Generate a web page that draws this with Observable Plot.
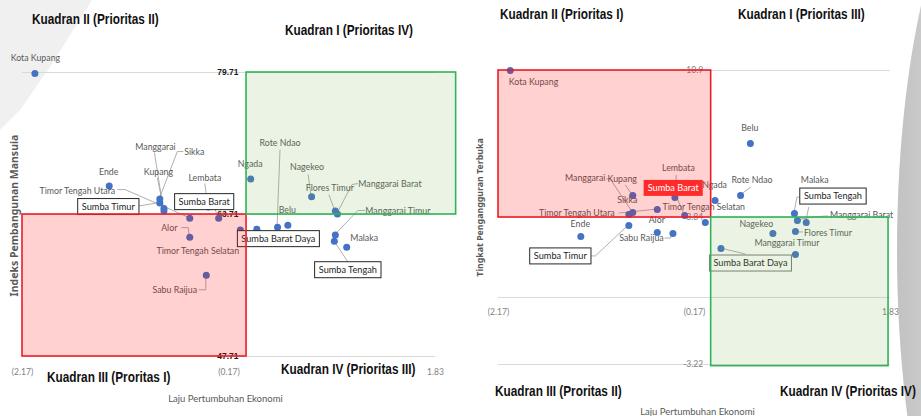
<!DOCTYPE html>
<html><head><meta charset="utf-8">
<script src="https://cdn.jsdelivr.net/npm/d3@7"></script>
<script src="https://cdn.jsdelivr.net/npm/@observablehq/plot@0.6"></script>
<style>
html,body{margin:0;padding:0;background:#fff;}
#wrap{position:relative;width:921px;height:416px;overflow:hidden;background:#fff;}
#bgL{position:absolute;left:0;top:0;width:100px;height:140px;background:#f0f0f0;clip-path:polygon(0 0,92px 0,50px 67px,20px 110px,0 130px);}
#bgR{position:absolute;left:897px;top:-150px;width:230px;height:800px;border-radius:50%;background:linear-gradient(90deg,#c2c2c2,#d6d6d6 30%,#c8c8c8);}
#left{position:absolute;left:0;top:0;}
#right{position:absolute;left:460px;top:0;}
</style></head>
<body>
<div id="wrap"><div id="bgL"></div><div id="bgR"></div><div id="left"></div><div id="right"></div></div>
<script>
// ---------- data ----------
const names = ["Kota Kupang","Ende","Sumba Timur","Sikka","Kupang","Manggarai","Timor Tengah Utara","Alor","Sabu Raijua","Lembata","Sumba Barat","Timor Tengah Selatan","Ngada","Sumba Barat Daya","Rote Ndao","Belu","Nagekeo","Sumba Tengah","Flores Timur","Manggarai Barat","Manggarai Timur","Malaka"];
const growth = [-2.05,-1.33,-0.84,-0.84,-0.80,-0.80,-0.55,-0.55,-0.39,-0.37,-0.27,-0.06,0.04,0.10,0.30,0.40,0.63,0.85,0.86,0.88,0.86,0.97];
const ipm = [79.6,66.93,65.0,65.45,64.4,64.1,63.3,61.16,56.86,64.55,63.3,61.95,67.7,62.06,62.28,62.5,65.7,60.7,64.1,63.76,61.4,60.03];
const tpt = [10.9,2.93,3.46,3.98,4.9,4.08,4.22,3.12,3.07,4.8,3.94,3.6,4.66,2.35,4.9,7.39,3.07,4.03,3.17,3.7,2.06,3.6];
const xTicks = [-2.17,-0.17,1.83];
const ipmTicks = [47.71,63.71,79.71];
const tptTicks = [-3.22,3.84,10.9];
const ipmSplit = 63.71, tptSplit = 3.84, growthSplit = 0;
const leftQuadTitles = ["Kuadran II (Prioritas II)","Kuadran I (Prioritas IV)","Kuadran III (Proritas I)","Kuadran IV (Prioritas III)"];
const rightQuadTitles = ["Kuadran II (Prioritas I)","Kuadran I (Prioritas III)","Kuadran III (Proritas II)","Kuadran IV (Prioritas IV)"];
const xTitle = "Laju Pertumbuhan Ekonomi";
const leftYTitle = "Indeks Pembangunan Mansuia";
const rightYTitle = "Tingkat Pengangguran Terbuka";

const data = names.map((n,i)=>({name:n, growth:growth[i], ipm:ipm[i], tpt:tpt[i]}));

// ---------- label layout (pixel offsets from each point) ----------
const leftLabels = {
  "Kota Kupang":{dx:1,dy:-15},
  "Ende":{dx:0,dy:-14},
  "Sumba Timur":{dx:-51,dy:4,box:"plain",leader:[[-24,4]]},
  "Sikka":{dx:35,dy:-47,leader:[[18,-47],[24,-47]]},
  "Kupang":{dx:-5,dy:-36,leader:[[-6,-30]]},
  "Manggarai":{dx:-8,dy:-64,leader:[[-9,-58]]},
  "Timor Tengah Utara":{dx:-74,dy:-27,anchor:"end",leader:[[-64,-28],[-72,-28]]},
  "Alor":{dx:-20,dy:-9,leader:[[-1,-9],[-8,-9]]},
  "Sabu Raijua":{dx:-31,dy:15,leader:[[0,15],[-7,15]]},
  "Lembata":{dx:-3,dy:-29,leader:[[-3,-23]]},
  "Sumba Barat":{dx:-14,dy:-16,box:"plain",leader:[[-3,-8]]},
  "Timor Tengah Selatan":{dx:-42,dy:21},
  "Ngada":{dx:0,dy:-15},
  "Sumba Barat Daya":{dx:22,dy:10,box:"plain"},
  "Rote Ndao":{dx:3,dy:-84,leader:[[3,-77]]},
  "Belu":{dx:0,dy:-15},
  "Nagekeo":{dx:-4,dy:-29,leader:[[-3,-22]]},
  "Sumba Tengah":{dx:14,dy:29,box:"plain",leader:[[14,21]]},
  "Flores Timur":{dx:-5,dy:-23,leader:[[-6,-16]]},
  "Manggarai Barat":{dx:53,dy:-30,leader:[[15,-29],[21,-30]]},
  "Manggarai Timur":{dx:63,dy:-24,leader:[[23,-24],[30,-24]]},
  "Malaka":{dx:18,dy:-9}
};
const rightLabels = {
  "Kota Kupang":{dx:-1,dy:12,anchor:"start"},
  "Ende":{dx:0,dy:-12},
  "Sumba Timur":{dx:-68,dy:31,box:"plain",leader:[[-33,31],[-40,31]]},
  "Sikka":{dx:-1,dy:-14},
  "Kupang":{dx:-10,dy:-16,leader:[[-7,-10]]},
  "Manggarai":{dx:-47,dy:-34,leader:[[-22,-33],[-26,-33]]},
  "Timor Tengah Utara":{dx:-42,dy:4,anchor:"end",leader:[[-38,4]]},
  "Alor":{dx:0,dy:-12},
  "Sabu Raijua":{dx:-31,dy:5,leader:[[-2,5],[-8,5]]},
  "Lembata":{dx:4,dy:-29,leader:[[2,-22]]},
  "Sumba Barat":{dx:-11,dy:-27,box:"red",leader:[[-8,-19]]},
  "Timor Tengah Selatan":{dx:-1,dy:-15},
  "Ngada":{dx:0,dy:-15},
  "Sumba Barat Daya":{dx:30,dy:15,box:"plain",boxStroke:"#7a7a7a",leader:[[25,6]]},
  "Rote Ndao":{dx:12,dy:-15,leader:[[11,-8]]},
  "Belu":{dx:0,dy:-15},
  "Nagekeo":{dx:-16,dy:-9},
  "Sumba Tengah":{dx:39,dy:-17,box:"plain",leader:[[3,-16],[9,-16]]},
  "Flores Timur":{dx:9,dy:2,anchor:"start",leader:[[4,1],[8,1]]},
  "Manggarai Barat":{dx:33,dy:-5,anchor:"start",leader:[[16,-3],[31,-4]]},
  "Manggarai Timur":{dx:-8,dy:-11},
  "Malaka":{dx:9,dy:-42,leader:[[3,-15]]}
};

const LABEL_FONT = "Lato, 'Open Sans', sans-serif";
const TITLE_FAMILY = "'Liberation Sans', Arial, sans-serif";
const AXIS_FONT = "'Noto Sans','Open Sans',sans-serif";
const DOT = "#4472c4", LABEL = "#595959", LEAD = "#a6a6a6", GRID = "#d9d9d9";
const CONDENSE = 0.815; // mimic a narrow bold face

const mcanvas = document.createElement("canvas");
const mctx = mcanvas.getContext("2d");
function textW(t, font){ mctx.font = font; return mctx.measureText(t).width; }

function leadersMark(layout, ykey){
  return (index, scales) => {
    const g = d3.create("svg:g").attr("fill","none").attr("stroke",LEAD).attr("stroke-width",0.9);
    data.forEach(d => {
      const L = layout[d.name];
      if (!L || !L.leader) return;
      const px = scales.x(d.growth), py = scales.y(d[ykey]);
      g.append("path").attr("d", `M${px},${py}` + L.leader.map(([a,b]) => `L${px+a},${py+b}`).join(""));
    });
    return g.node();
  };
}
function labelsMark(layout, ykey, which){
  return (index, scales) => {
    const g = d3.create("svg:g").attr("font-family", LABEL_FONT);
    data.forEach(d => {
      const L = layout[d.name];
      if (!L) return;
      const isTop = L.box === "red";
      if ((which === "top") !== isTop) return;
      const px = scales.x(d.growth) + L.dx, py = scales.y(d[ykey]) + L.dy;
      const anchor = L.anchor || "middle";
      if (L.box){
        const fs = 9.2;
        const w = textW(d.name, `${fs}px Lato`) + 8, h = 16;
        const x0 = anchor === "middle" ? px - w/2 : anchor === "start" ? px - 4 : px - w + 4;
        g.append("rect").attr("x",x0).attr("y",py-h/2).attr("width",w).attr("height",h)
          .attr("fill", L.box === "red" ? "#ff2b2b" : "#fff")
          .attr("stroke", L.box === "red" ? "none" : (L.boxStroke || "#262626")).attr("stroke-width",1);
        g.append("text").attr("x",px).attr("y",py).attr("dy","0.35em").attr("text-anchor",anchor)
          .attr("font-size",fs).attr("fill", L.box === "red" ? "#fff" : "#262626").text(d.name);
      } else {
        g.append("text").attr("x",px).attr("y",py).attr("dy","0.35em").attr("text-anchor",anchor)
          .attr("font-size",8.8).attr("fill",LABEL).text(d.name);
      }
    });
    return g.node();
  };
}
// quadrant titles: bold text, horizontally condensed to mimic Arial Narrow Bold
function titlesMark(titles, spots){
  return () => {
    const g = d3.create("svg:g").attr("font-family", TITLE_FAMILY).attr("font-weight","bold")
      .attr("font-size", 14.5).attr("fill", "#111").attr("text-anchor","start");
    titles.forEach((t, i) => {
      g.append("text").attr("transform", `translate(${spots[i][0]},${spots[i][1]}) scale(${CONDENSE},1)`)
        .attr("dy","0.35em").attr("text-anchor","start").text(t);
    });
    return g.node();
  };
}
function absText(t, px, py, m, opts){
  return Plot.text([t], {frameAnchor:"top-left", dx: px - m.left, dy: py - m.top, text: d => d, lineAnchor:"middle", ...opts});
}
const fmtX = d => d < 0 ? `(${Math.abs(d).toFixed(2)})` : d.toFixed(2);

// ---------- left chart ----------
const mL = {left:22, right:25, top:72, bottom:60};
const left = Plot.plot({
  width: 460, height: 416,
  marginLeft: mL.left, marginRight: mL.right, marginTop: mL.top, marginBottom: mL.bottom,
  style: {background: "transparent", fontFamily: LABEL_FONT, overflow: "visible"},
  x: {domain: [xTicks[0], xTicks[2]], axis: null},
  y: {domain: [ipmTicks[0], ipmTicks[2]], axis: null},
  marks: [
    Plot.ruleY(ipmTicks, {x1: xTicks[0], x2: xTicks[2], stroke: GRID, strokeWidth: 1}),
    Plot.text(xTicks, {x: d => d, y: ipmTicks[0], text: fmtX, dy: 16, fill: "#7f7f7f", fontSize: 8.5}),
    Plot.text(ipmTicks, {x: growthSplit, y: d => d, text: d => d.toFixed(2), dx: -8, textAnchor: "end", fill: "#1a1a1a", fontWeight: "bold", fontSize: 8.5, fontFamily: "'Liberation Sans',sans-serif"}),
    leadersMark(leftLabels, "ipm"),
    Plot.dot(data, {x: "growth", y: "ipm", r: 3.5, fill: DOT, stroke: "none"}),
    labelsMark(leftLabels, "ipm", "normal"),
    Plot.rect([{x1: xTicks[0], x2: growthSplit, y1: ipmTicks[0], y2: ipmSplit}], {x1:"x1", x2:"x2", y1:"y1", y2:"y2", fill: "#ff0000", fillOpacity: 0.18, stroke: "#ee1c24", strokeWidth: 1.6}),
    Plot.rect([{x1: growthSplit, x2: 2.03, y1: ipmSplit, y2: ipmTicks[2]}], {x1:"x1", x2:"x2", y1:"y1", y2:"y2", fill: "#70ad47", fillOpacity: 0.15, stroke: "#2fb457", strokeWidth: 1.6}),
    labelsMark(leftLabels, "ipm", "top"),
    titlesMark(leftQuadTitles, [[32,19],[285,30],[47,377],[281,369]]),
    absText(xTitle, 225, 398, mL, {textAnchor: "middle", fill: "#595959", fontSize: 9.5, fontFamily: LABEL_FONT}),
    absText(leftYTitle, 14, 215, mL, {textAnchor: "middle", rotate: -90, fill: "#595959", fontSize: 10.5, fontWeight: "bold", fontFamily: AXIS_FONT})
  ]
});
document.getElementById("left").appendChild(left);

// ---------- right chart ----------
const mR = {left:38, right:31, top:70, bottom:52};
const right = Plot.plot({
  width: 461, height: 416,
  marginLeft: mR.left, marginRight: mR.right, marginTop: mR.top, marginBottom: mR.bottom,
  style: {background: "transparent", fontFamily: LABEL_FONT, overflow: "visible"},
  x: {domain: [xTicks[0], xTicks[2]], axis: null},
  y: {domain: [tptTicks[0], tptTicks[2]], axis: null},
  marks: [
    Plot.ruleY([...tptTicks, 0], {x1: xTicks[0], x2: xTicks[2], stroke: GRID, strokeWidth: 1}),
    Plot.text(xTicks, {x: d => d, y: 0, text: fmtX, dy: 15, fill: "#7f7f7f", fontSize: 8.5}),
    Plot.text(tptTicks, {x: growthSplit, y: d => d, text: d => String(d), dx: -8, textAnchor: "end", fill: "#7f7f7f", fontSize: 8.5}),
    leadersMark(rightLabels, "tpt"),
    Plot.dot(data, {x: "growth", y: "tpt", r: 3.5, fill: DOT, stroke: "none"}),
    labelsMark(rightLabels, "tpt", "normal"),
    Plot.rect([{x1: xTicks[0], x2: growthSplit, y1: tptSplit, y2: tptTicks[2]}], {x1:"x1", x2:"x2", y1:"y1", y2:"y2", fill: "#ff0000", fillOpacity: 0.18, stroke: "#ee1c24", strokeWidth: 1.6}),
    Plot.rect([{x1: growthSplit, x2: 1.81, y1: -3.3, y2: tptSplit}], {x1:"x1", x2:"x2", y1:"y1", y2:"y2", fill: "#70ad47", fillOpacity: 0.15, stroke: "#2fb457", strokeWidth: 1.6}),
    labelsMark(rightLabels, "tpt", "top"),
    titlesMark(rightQuadTitles, [[40,14],[278,14],[35,391],[320,391]]),
    absText(xTitle, 237, 411, mR, {textAnchor: "middle", fill: "#595959", fontSize: 9.5, fontFamily: LABEL_FONT}),
    absText(rightYTitle, 20, 207, mR, {textAnchor: "middle", rotate: -90, fill: "#595959", fontSize: 8.8, fontWeight: "bold", fontFamily: AXIS_FONT})
  ]
});
document.getElementById("right").appendChild(right);
</script>
</body></html>
